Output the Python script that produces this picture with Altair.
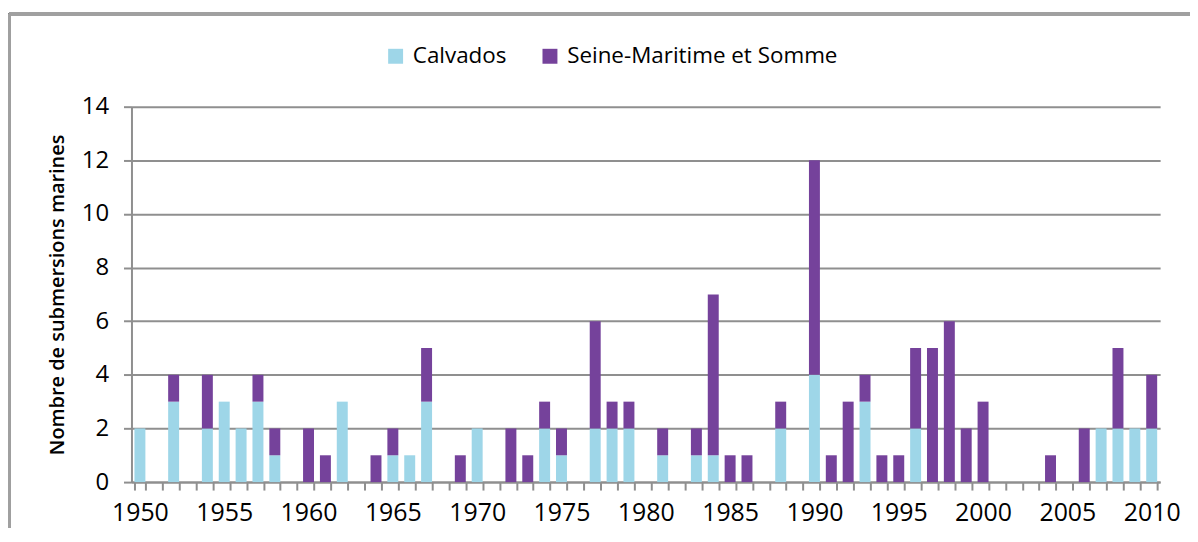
import altair as alt
import pandas as pd

years = list(range(1950, 2011))
calvados = [2, 0, 3, 0, 2, 3, 2, 3, 1, 0,
            0, 0, 3, 0, 0, 1, 1, 3, 0, 0,
            2, 0, 0, 0, 2, 1, 0, 2, 2, 2,
            0, 1, 0, 1, 1, 0, 0, 0, 2, 0,
            4, 0, 0, 3, 0, 0, 2, 0, 0, 0,
            0, 0, 0, 0, 0, 0, 0, 2, 2, 2,
            2]
seine = [0, 0, 1, 0, 2, 0, 0, 1, 1, 0,
         2, 1, 0, 0, 1, 1, 0, 2, 0, 1,
         0, 0, 2, 1, 1, 1, 0, 4, 1, 1,
         0, 1, 0, 1, 6, 1, 1, 0, 1, 0,
         8, 1, 3, 1, 1, 1, 3, 5, 6, 2,
         3, 0, 0, 0, 1, 0, 2, 0, 3, 0,
         2]
series = ["Calvados", "Seine-Maritime et Somme"]
colors = ["#9ed6e8", "#75429b"]
y_ticks = [0, 2, 4, 6, 8, 10, 12, 14]

rows = []
for y, c, s in zip(years, calvados, seine):
    rows.append({"annee": y, "serie": series[0], "n": c})
    rows.append({"annee": y, "serie": series[1], "n": s})
df = pd.DataFrame(rows)

FONT = "Open Sans"
GRID = "#8f8f8f"

bars = alt.Chart(df).mark_bar().encode(
    x=alt.X("annee:O", title=None,
            scale=alt.Scale(paddingInner=0.35, paddingOuter=0.175),
            axis=alt.Axis(labelExpr="datum.value % 5 === 0 ? datum.label : ''",
                          labelAngle=0, tickBand="extent", tickSize=8,
                          tickColor=GRID, tickWidth=2, domainColor=GRID,
                          domainWidth=2, labelFontSize=25, labelFont=FONT,
                          labelColor="#000000", labelPadding=11, grid=False)),
    y=alt.Y("n:Q", stack="zero",
            title="Nombre de submersions marines",
            scale=alt.Scale(domain=[0, 14], nice=False),
            axis=alt.Axis(values=y_ticks, tickSize=8, tickColor=GRID,
                          tickWidth=2, domainColor=GRID, domainWidth=2,
                          gridColor=GRID, gridWidth=2, labelFontSize=24,
                          labelFont=FONT, labelColor="#000000",
                          labelPadding=15, titleFont=FONT, titleFontSize=20,
                          titleFontWeight=600, titleColor="#000000",
                          titleX=-64, titleBaseline="bottom")),
    color=alt.Color("serie:N", title=None,
                    scale=alt.Scale(domain=series, range=colors),
                    legend=alt.Legend(orient="none", legendX=254, legendY=-62,
                                      direction="horizontal",
                                      symbolType="square", symbolSize=225,
                                      symbolStrokeWidth=0,
                                      labelFont=FONT, labelFontSize=22.5,
                                      labelColor="#000000", labelOffset=6,
                                      labelLimit=500,
                                      columnPadding=32, padding=0)),
    order=alt.Order("serie:N", sort="ascending"),
)

frame_top = alt.Chart(df).mark_rule(color="#a0a0a0", strokeWidth=3).encode(
    x=alt.value(-123), x2=alt.value(1070), y=alt.value(-93))
frame_left = alt.Chart(df).mark_rule(color="#a0a0a0", strokeWidth=3).encode(
    x=alt.value(-123), y=alt.value(-93), y2=alt.value(460))

chart = alt.layer(bars, frame_top, frame_left).properties(
    width=1033, height=377,
    autosize=alt.AutoSizeParams(type="none"),
    padding={"left": 124, "top": 98, "right": 30, "bottom": 45},
).configure_view(stroke=None).configure_axis(labelFlush=False)

chart.save("out.html", embed_options={"renderer": "svg", "actions": False})
